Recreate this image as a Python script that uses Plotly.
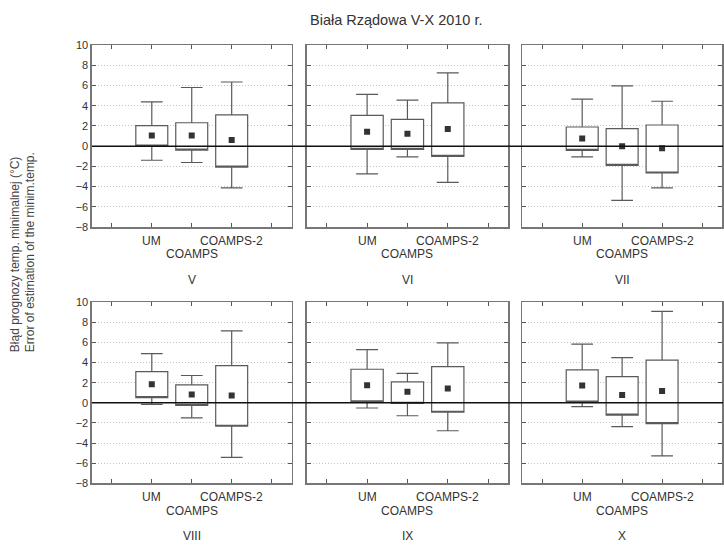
import plotly.graph_objects as go

# ---- data ----
months = ["V", "VI", "VII", "VIII", "IX", "X"]
models = ["UM", "COAMPS", "COAMPS-2"]
model_pos = [2, 3, 4]

mean_V = [1.06, 1.06, 0.61]
mean_VI = [1.42, 1.23, 1.71]
mean_VII = [0.77, 0.00, -0.19]
mean_VIII = [1.84, 0.81, 0.71]
mean_IX = [1.75, 1.10, 1.42]
mean_X = [1.71, 0.78, 1.16]

box_hi_V = [2.03, 2.32, 3.10]
box_hi_VI = [3.06, 2.65, 4.29]
box_hi_VII = [1.90, 1.74, 2.10]
box_hi_VIII = [3.10, 1.78, 3.68]
box_hi_IX = [3.33, 2.07, 3.59]
box_hi_X = [3.26, 2.59, 4.23]

box_lo_V = [0.00, -0.39, -2.06]
box_lo_VI = [-0.32, -0.32, -1.00]
box_lo_VII = [-0.42, -1.90, -2.65]
box_lo_VIII = [0.52, -0.26, -2.33]
box_lo_IX = [0.10, -0.06, -0.94]
box_lo_X = [0.06, -1.23, -2.07]

max_V = [4.39, 5.81, 6.35]
max_VI = [5.13, 4.55, 7.26]
max_VII = [4.65, 5.97, 4.45]
max_VIII = [4.88, 2.71, 7.14]
max_IX = [5.27, 2.91, 5.95]
max_X = [5.82, 4.49, 9.08]

min_V = [-1.39, -1.61, -4.13]
min_VI = [-2.74, -1.06, -3.58]
min_VII = [-1.06, -5.35, -4.13]
min_VIII = [-0.16, -1.49, -5.43]
min_IX = [-0.52, -1.29, -2.78]
min_X = [-0.39, -2.36, -5.27]

means = [mean_V, mean_VI, mean_VII, mean_VIII, mean_IX, mean_X]
box_hi = [box_hi_V, box_hi_VI, box_hi_VII, box_hi_VIII, box_hi_IX, box_hi_X]
box_lo = [box_lo_V, box_lo_VI, box_lo_VII, box_lo_VIII, box_lo_IX, box_lo_X]
maxs = [max_V, max_VI, max_VII, max_VIII, max_IX, max_X]
mins = [min_V, min_VI, min_VII, min_VIII, min_IX, min_X]

y_ticks = [-8, -6, -4, -2, 0, 2, 4, 6, 8, 10]
title = "Biała Rządowa V-X 2010 r."
ytitle = "Błąd prognozy temp. minimalnej (°C)<br>Error of estimation of the minim.temp."

# ---- layout geometry (page pixels) ----
W, H = 724, 549
col_px = [(92, 292), (307, 509), (523, 723)]
row_px = [(40, 226), (302.7, 488)]


def px(x):
    return x / W


def py(y):
    return 1 - y / H


FONT = "Liberation Sans, Arial, sans-serif"
FRAME = "#767676"
TICKC = "#555555"
BOXC = "#5a5a5a"
TXT = "#333333"

fig = go.Figure()
annotations = []
shapes = []

for i, m in enumerate(months):
    r, c = divmod(i, 3)
    n = i + 1
    xs = "" if n == 1 else str(n)
    xa, ya = "x" + xs, "y" + xs
    x0, x1 = col_px[c]
    yt, yb = row_px[r]
    fig.update_layout(**{
        "xaxis" + xs: dict(
            domain=[px(x0), min(px(x1), 1.0)], anchor=ya, range=[0.5, 5.5],
            tickvals=[1, 2, 3, 4, 5], showticklabels=False,
            ticks="inside", ticklen=4, tickcolor=TICKC,
            showline=True, linecolor=FRAME, linewidth=1.5, mirror="ticks",
            showgrid=False, zeroline=False, fixedrange=True),
        "yaxis" + xs: dict(
            domain=[py(yb), py(yt)], anchor=xa, range=[-8, 10],
            tickvals=y_ticks, showticklabels=(c == 0),
            tickfont=dict(family=FONT, size=11, color=TXT),
            ticks="inside", ticklen=4, tickcolor=TICKC,
            showline=True, linecolor=FRAME, linewidth=1.5, mirror="ticks",
            showgrid=True, gridcolor="#c4c4c4", griddash="1px,2px", gridwidth=1,
            zeroline=False, fixedrange=True),
    })
    fig.add_trace(go.Box(
        x=model_pos, q1=box_lo[i], median=box_lo[i], q3=box_hi[i],
        lowerfence=mins[i], upperfence=maxs[i],
        width=0.8, whiskerwidth=0.68,
        fillcolor="white", line=dict(color=BOXC, width=1.2),
        boxpoints=False, xaxis=xa, yaxis=ya, showlegend=False,
        hoverinfo="skip"))
    fig.add_trace(go.Scatter(
        x=model_pos, y=means[i], mode="markers",
        marker=dict(symbol="square", size=6, color="#333333"),
        xaxis=xa, yaxis=ya, showlegend=False, hoverinfo="skip"))

    # category labels (staggered) and month label
    for k, name in enumerate(models):
        annotations.append(dict(
            x=model_pos[k], xref=xa, y=py(yb + (28 if k == 1 else 14)), yref="paper",
            text=name, showarrow=False, xanchor="center", yanchor="middle",
            font=dict(family=FONT, size=12, color=TXT)))
    annotations.append(dict(
        x=3, xref=xa, y=py(yb + 54), yref="paper", text=m, showarrow=False,
        xanchor="center", yanchor="middle",
        font=dict(family=FONT, size=12, color=TXT)))

# zero lines across each row
for yref in ["y", "y4"]:
    shapes.append(dict(type="line", xref="paper", yref=yref,
                       x0=px(92), x1=1.0, y0=0, y1=0,
                       line=dict(color="#111111", width=1.4), layer="above"))

annotations.append(dict(
    x=px(397), y=py(14), xref="paper", yref="paper", text=title,
    showarrow=False, xanchor="center", yanchor="middle",
    font=dict(family=FONT, size=14.5, color=TXT)))
annotations.append(dict(
    x=px(23), y=py(356), xref="paper", yref="paper", text=ytitle,
    showarrow=False, xanchor="center", yanchor="bottom", textangle=-90,
    align="left", font=dict(family=FONT, size=12, color="#444444")))

fig.update_layout(
    width=W, height=H, margin=dict(l=0, r=0, t=0, b=0),
    paper_bgcolor="white", plot_bgcolor="white",
    annotations=annotations, shapes=shapes, showlegend=False,
    font=dict(family=FONT, color=TXT))

fig.write_html(
    "out.html",
    config={"displayModeBar": False, "staticPlot": True},
    post_script=("document.documentElement.style.margin='0';"
                 "document.body.style.margin='0';"
                 "document.body.style.padding='0';"
                 "document.body.style.overflow='hidden';"),
)
